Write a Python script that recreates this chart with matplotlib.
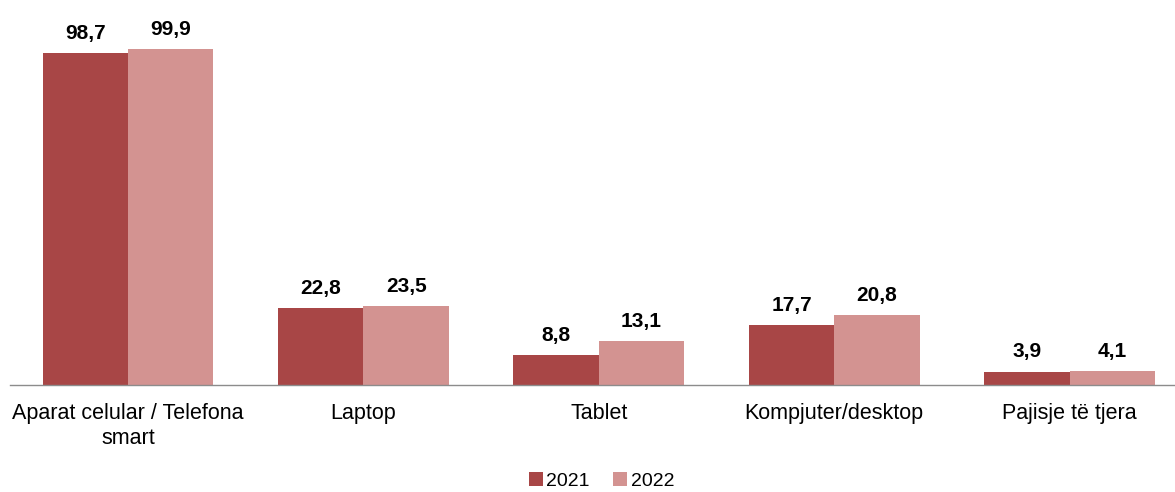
import numpy as np
import matplotlib.pyplot as plt

plt.rcParams['font.family'] = ['Liberation Sans', 'DejaVu Sans']

categories = ['Aparat celular / Telefona\nsmart', 'Laptop', 'Tablet', 'Kompjuter/desktop', 'Pajisje të tjera']
years = ['2021', '2022']
vals_2021 = [98.7, 22.8, 8.8, 17.7, 3.9]
vals_2022 = [99.9, 23.5, 13.1, 20.8, 4.1]
colors = ['#A84646', '#D39391']

fig = plt.figure(figsize=(11.75, 4.92), dpi=100)
ax = fig.add_axes([10.3 / 1175, 107 / 492, 1177 / 1175, 370 / 492])

x = np.arange(len(categories))
w = 0.363
for i, (vals, c, yr) in enumerate(zip([vals_2021, vals_2022], colors, years)):
    pos = x + (i - 0.5) * w
    bars = ax.bar(pos, vals, width=w, color=c, label=yr)
    for b, v in zip(bars, vals):
        ax.annotate(f'{v:.1f}'.replace('.', ','), (b.get_x() + b.get_width() / 2, v),
                    xytext=(0, 7.5), textcoords='offset points',
                    ha='center', va='bottom', fontsize=15, fontweight='bold')

ax.set_xlim(-0.5, len(categories) - 0.5)
ax.set_ylim(0, 110)
ax.set_xticks(x)
ax.set_xticklabels(categories, fontsize=15.5, linespacing=1.25)
ax.tick_params(axis='x', length=0, pad=13)
ax.set_yticks([])
for s in ['top', 'right', 'left']:
    ax.spines[s].set_visible(False)
ax.spines['bottom'].set_color('#8c8c8c')
ax.spines['bottom'].set_linewidth(1)

fig.legend(loc='center', bbox_to_anchor=(0.512, 0.022), ncol=2, frameon=False,
           fontsize=14, handlelength=0.7, handleheight=0.7, handletextpad=0.2,
           columnspacing=1.2, borderpad=0.1)

fig.savefig('out.png', dpi=100)
